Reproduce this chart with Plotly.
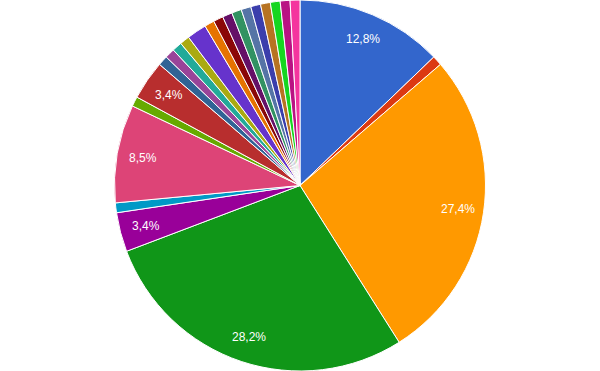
import math
import plotly.graph_objects as go

categories = [f"Item {i+1}" for i in range(24)]
values = [15, 1, 32, 33, 4, 1, 10, 1, 4, 1, 1, 1, 1, 2, 1, 1, 1, 1, 1, 1, 1, 1, 1, 1]
colors = ["#3366cc", "#dc3912", "#ff9900", "#109618", "#990099", "#0099c6",
          "#dd4477", "#66aa00", "#b82e2e", "#316395", "#994499", "#22aa99",
          "#aaaa11", "#6633cc", "#e67300", "#8b0707", "#651067", "#329262",
          "#5574a6", "#3b3eac", "#b77322", "#16d620", "#b91383", "#f4359e"]

W, H = 600, 371
total = sum(values)

fig = go.Figure(go.Pie(
    labels=categories, values=values,
    textinfo="none",
    marker=dict(colors=colors, line=dict(color="white", width=1)),
    sort=False, direction="clockwise", rotation=0,
    domain=dict(x=[0, 1], y=[0, 1]),
    showlegend=False, hoverinfo="label+percent",
))

# slice labels on the bisector of each slice (Google-chart style)
radius = min(W, H) / 2
label_r = 0.86 * radius
cum = 0
annotations = []
for v in values:
    p = v / total * 100
    mid = (cum + v / 2) / total * 2 * math.pi
    cum += v
    if p < 3:
        continue
    x = 0.5 + label_r * math.sin(mid) / W
    y = 0.5 + label_r * math.cos(mid) / H
    annotations.append(dict(
        x=x, y=y, xref="paper", yref="paper", showarrow=False,
        text=f"{p:.1f}%".replace(".", ","), xanchor="center", yanchor="middle",
        font=dict(family="Liberation Sans, Arial", size=12, color="white")))

fig.update_layout(width=W, height=H, margin=dict(l=0, r=0, t=0, b=0),
                  paper_bgcolor="white", plot_bgcolor="white",
                  annotations=annotations)
fig.write_html("out.html")
